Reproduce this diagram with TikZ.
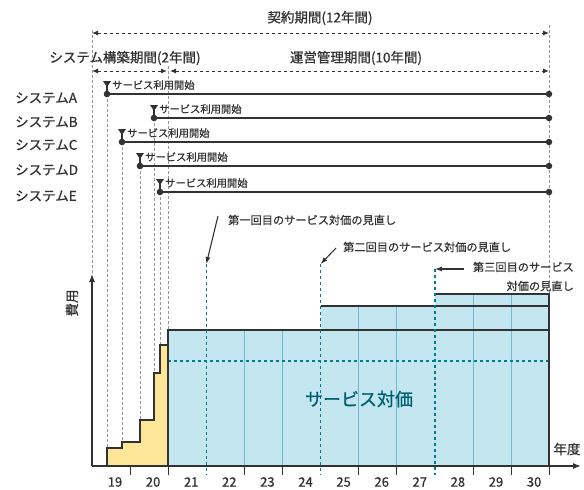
\documentclass[tikz,border=0pt]{standalone}
\usepackage{fontspec}
\setmainfont{Noto Sans CJK JP}[FakeBold=0.7]
\usetikzlibrary{arrows.meta}
\definecolor{fillblue}{RGB}{196,230,240}
\definecolor{fillyellow}{RGB}{254,230,152}
\definecolor{teal2}{RGB}{0,125,145}
\definecolor{gridblue}{RGB}{110,185,205}
\definecolor{darkline}{RGB}{50,50,50}
\definecolor{guidegray}{RGB}{150,150,150}
\definecolor{textteal}{RGB}{0,95,115}
\tikzset{
  lbl/.style={font=\fontsize{13.5}{15}\selectfont, inner sep=0pt, text=darkline},
  small/.style={font=\fontsize{10.3}{12}\selectfont, inner sep=0pt, anchor=west, text=darkline},
  note/.style={font=\fontsize{11.2}{13}\selectfont, inner sep=0pt, text=darkline},
  yearlbl/.style={font=\fontsize{13}{15}\selectfont, inner sep=0pt, text=darkline},
  guide/.style={guidegray, densely dashed, line width=0.6pt},
  periodboth/.style={dashed, line width=1pt, darkline, {Latex[length=6pt,width=5pt]}-{Latex[length=6pt,width=5pt]}},
  sysline/.style={line width=1.6pt, darkline},
  outline/.style={line width=1.2pt, darkline},
  gridline/.style={gridblue, line width=0.8pt},
  revline/.style={teal2, dashed, line width=1.2pt},
  callout/.style={line width=1.1pt, darkline, -{Latex[length=7pt,width=5pt]}},
  dot/.style={circle, fill=darkline, inner sep=0pt, minimum size=6.5pt},
}
\begin{document}
\begin{tikzpicture}[x=1pt,y=-1pt]
\useasboundingbox (0,0) rectangle (584,490);

% ---------- fills ----------
\fill[fillblue] (168,466) -- (168,330) -- (321,330) -- (321,306) -- (435,306) -- (435,294) -- (549,294) -- (549,466) -- cycle;
\fill[fillyellow] (107,466) -- (107,448) -- (122,448) -- (122,442) -- (140,442) -- (140,420) -- (154,420) -- (154,373) -- (160,373) -- (160,345) -- (168,345) -- (168,466) -- cycle;

% ---------- grid inside blue ----------
\foreach \x in {244.4,282.5} \draw[gridline] (\x,330) -- (\x,466);
\foreach \x in {358.7,396.8} \draw[gridline] (\x,306) -- (\x,466);
\foreach \x in {473,511.1} \draw[gridline] (\x,294) -- (\x,466);
\draw[revline] (168,361) -- (549,361);

% ---------- guide dashed lines ----------
\coordinate (cstart) at (92,30);
\coordinate (cend) at (549,25);
\draw[guide] (cstart) -- (92,275);
\draw[guide] (cend) -- (549,294);
\draw[guide] (168,66) -- (168,330);
\draw[guide] (107,94) -- (107,448);
\draw[guide] (122,142) -- (122,442);
\draw[guide] (140,166) -- (140,420);
\draw[guide] (154,118) -- (154,373);
\draw[guide] (160,192) -- (160,345);

% ---------- outlines ----------
\draw[outline] (92,466) -- (107,466) -- (107,448) -- (122,448) -- (122,442) -- (140,442) -- (140,420) -- (154,420) -- (154,373) -- (160,373) -- (160,345) -- (168,345) -- (168,330) -- (549,330);
\draw[outline] (168,330) -- (168,466);
\draw[outline] (321,306) -- (549,306);
\draw[outline] (435,294) -- (549,294) -- (549,466);

% ---------- axes ----------
\coordinate (origin) at (92,466);
\coordinate (xend) at (581,466);
\coordinate (yend) at (92,274);
\draw[line width=1.2pt, darkline, -{Latex[length=8pt,width=6pt]}] (origin) -- (xend);
\draw[line width=1.2pt, darkline, -{Latex[length=8pt,width=6pt]}] (origin) -- (yend);
\foreach \x in {130.1,168.2,244.4,282.5,358.7,396.8,473,511.1,549.2}
  \draw[line width=1pt, darkline] (\x,466) -- (\x,475);
\foreach \k [count=\i from 0] in {19,20,21,22,23,24,25,26,27,28,29,30}
  \node[yearlbl] (y\k) at ({92+38.1*\i+23},482) {\k};
\node[lbl, rotate=90] (cost) at (72,303) {費用};
\node[lbl] (nendo) at (567,449) {年度};

% ---------- revision dashed verticals ----------
\coordinate (r1) at (206.3,264);
\coordinate (r2) at (320.6,264);
\coordinate (r3) at (434.9,269);
\draw[revline] (r1) -- (206.3,475);
\draw[revline] (r2) -- (320.6,475);
\draw[revline] (r3) -- (434.9,475);

\node[font=\fontsize{18}{21}\selectfont, inner sep=0pt, text=textteal] (svc) at (359,399) {サービス対価};

% ---------- revision notes ----------
\node[note, anchor=west] (n1) at (228,220) {第一回目のサービス対価の見直し};
\node[note, anchor=west] (n2) at (343,247) {第二回目のサービス対価の見直し};
\node[note, anchor=east] (n3a) at (574,267) {第三回目のサービス};
\node[note, anchor=east] (n3b) at (574,286) {対価の見直し};
\draw[callout] (218,216) -- (r1);
\draw[callout] (336,248) -- (r2);
\draw[callout] (464,269) -- (r3);

% ---------- period arrows ----------
\node[lbl] (contract) at (320,18) {契約期間(12年間)};
\node[lbl] (build) at (125,58) {システム構築期間(2年間)};
\node[lbl] (ops) at (356,58) {運営管理期間(10年間)};
\coordinate (p0) at (92,33);
\coordinate (p1) at (549,33);
\draw[periodboth] (p0) -- (p1);
\coordinate (q0) at (92,71);
\coordinate (q1) at (167,71);
\coordinate (q2) at (170,71);
\coordinate (q3) at (549,71);
\draw[periodboth] (q0) -- (q1);
\draw[periodboth] (q2) -- (q3);

% ---------- systems ----------
\foreach \name/\sx/\sy/\ly in {A/107/94/98, B/154/118/122, C/122/142/145, D/140/166/170, E/160/192/196}{
  \node[lbl, anchor=west] (lab\name) at (15,\ly) {システム\name};
  \coordinate (s\name) at (\sx,\sy);
  \node[dot] (e\name) at (549,\sy) {};
  \draw[sysline] (s\name) -- (e\name);
  \fill[darkline] (\sx,\sy) circle (3.3pt);
  \draw[line width=1.4pt, darkline] (\sx,\sy-9) -- (\sx,\sy);
  \fill[darkline] (\sx-4,\sy-13) -- (\sx+4,\sy-13) -- (\sx,\sy-7) -- cycle;
  \node[small] (t\name) at (\sx+5,\sy-9) {サービス利用開始};
}
\end{tikzpicture}
\end{document}
